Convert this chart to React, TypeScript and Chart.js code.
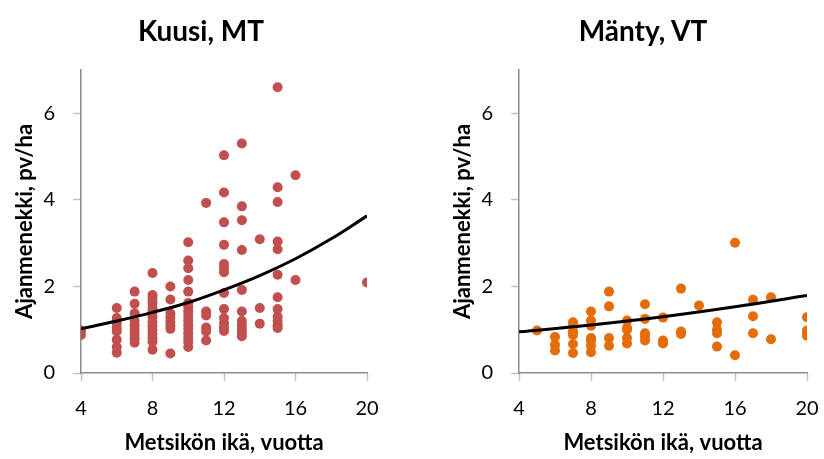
import React, { useEffect, useRef } from "react";
import { Chart, registerables } from "chart.js";

Chart.register(...registerables);

// ---- Data: Kuusi, MT (age in years, time per hectare) ----
const kuusiAge = [
  4, 4,
  6, 6, 6, 6, 6, 6, 6, 6,
  7, 7, 7, 7, 7, 7, 7, 7, 7,
  8, 8, 8, 8, 8, 8, 8, 8, 8, 8, 8, 8, 8, 8,
  9, 9, 9, 9, 9, 9, 9, 9,
  10, 10, 10, 10, 10, 10, 10, 10, 10, 10, 10, 10, 10, 10, 10, 10,
  11, 11, 11, 11, 11, 11,
  12, 12, 12, 12, 12, 12, 12, 12, 12, 12, 12, 12, 12,
  13, 13, 13, 13, 13, 13, 13, 13, 13, 13, 13,
  14, 14, 14,
  15, 15, 15, 15, 15, 15, 15, 15, 15, 15, 15, 15,
  16, 16,
  20,
];
const kuusiValue = [
  0.98, 0.88,
  1.5, 1.27, 1.15, 1.04, 0.96, 0.77, 0.6, 0.47,
  1.88, 1.6, 1.38, 1.2, 1.1, 1.0, 0.9, 0.8, 0.7,
  2.31, 1.8, 1.72, 1.62, 1.5, 1.42, 1.3, 1.18, 1.08, 1.0, 0.9, 0.8, 0.72, 0.54,
  2.0, 1.7, 1.38, 1.28, 1.18, 1.1, 1.02, 0.45,
  3.02, 2.6, 2.42, 2.15, 1.88, 1.62, 1.52, 1.42, 1.32, 1.22, 1.12, 1.02, 0.92, 0.82, 0.72, 0.6,
  3.93, 1.42, 1.33, 1.05, 0.96, 0.75,
  5.03, 4.17, 3.48, 2.96, 2.52, 2.42, 2.33, 1.85, 1.48, 1.27, 1.15, 1.05, 0.97,
  5.3, 3.85, 3.53, 2.84, 1.92, 1.42, 1.2, 1.1, 1.0, 0.92, 0.85,
  3.09, 1.5, 1.14,
  6.6, 4.29, 3.95, 3.04, 2.86, 2.27, 1.75, 1.48, 1.3, 1.2, 1.1, 1.04,
  4.57, 2.15,
  2.09,
];
const kuusiTrendAge = [4, 6, 8, 10, 12, 14, 16, 18, 20];
const kuusiTrendValue = [1.02, 1.2, 1.4, 1.63, 1.92, 2.25, 2.64, 3.1, 3.63];

// ---- Data: Mänty, VT ----
const mantyAge = [
  5,
  6, 6, 6,
  7, 7, 7, 7, 7, 7,
  8, 8, 8, 8, 8, 8, 8,
  9, 9, 9, 9,
  10, 10, 10, 10, 10,
  11, 11, 11, 11, 11,
  12, 12, 12,
  13, 13, 13,
  14,
  15, 15, 15, 15,
  16, 16,
  17, 17, 17,
  18, 18,
  20, 20, 20, 20,
];
const mantyValue = [
  0.98,
  0.83, 0.65, 0.52,
  1.17, 1.08, 0.96, 0.88, 0.67, 0.46,
  1.42, 1.21, 1.09, 0.81, 0.75, 0.63, 0.48,
  1.88, 1.54, 0.81, 0.63,
  1.21, 1.04, 1.0, 0.81, 0.68,
  1.59, 1.25, 0.92, 0.85, 0.75,
  1.28, 0.75, 0.68,
  1.95, 0.96, 0.9,
  1.56,
  1.17, 1.0, 0.92, 0.61,
  3.01, 0.41,
  1.69, 1.31, 0.92,
  1.75, 0.78,
  1.29, 0.98, 0.92, 0.86,
];
const mantyTrendAge = [4, 8, 12, 16, 20];
const mantyTrendValue = [0.95, 1.11, 1.3, 1.53, 1.79];

const xTicks = [4, 8, 12, 16, 20];
const yTicks = [0, 2, 4, 6];

const FONT = "Lato, 'Open Sans', sans-serif";
const AXIS_COLOR = "#8c8c8c";

type PanelProps = {
  ages: number[];
  values: number[];
  trendAges: number[];
  trendValues: number[];
  color: string;
  padLeft: number;
  yWidth: number;
  padRight: number;
};

function Panel(props: PanelProps) {
  const ref = useRef<HTMLCanvasElement | null>(null);
  useEffect(() => {
    if (!ref.current) return;
    const pts = props.ages.map((a, i) => ({ x: a, y: props.values[i] }));
    const trend = props.trendAges.map((a, i) => ({ x: a, y: props.trendValues[i] }));
    const chart = new Chart(ref.current, {
      type: "scatter",
      data: {
        datasets: [
          {
            type: "line",
            data: trend,
            borderColor: "#000000",
            borderWidth: 3,
            pointRadius: 0,
            tension: 0.4,
            fill: false,
            order: 0,
          } as any,
          {
            data: pts,
            backgroundColor: props.color,
            borderColor: props.color,
            pointRadius: 5,
            pointBorderWidth: 0,
            order: 1,
          },
        ],
      },
      options: {
        animation: false,
        responsive: false,
        devicePixelRatio: 1,
        layout: { padding: { left: props.padLeft, right: props.padRight, top: 70, bottom: 0 } },
        plugins: { legend: { display: false }, tooltip: { enabled: false }, title: { display: false } },
        scales: {
          x: {
            type: "linear",
            min: 4,
            max: 20,
            afterBuildTicks: (s: any) => {
              s.ticks = xTicks.map((v) => ({ value: v }));
            },
            afterFit: (s: any) => {
              s.height = 86;
              s.paddingLeft = 0;
              s.paddingRight = 0;
            },
            grid: { drawOnChartArea: false, drawTicks: true, tickLength: 8, color: "#c0c0c0", tickWidth: 1.5 },
            border: { color: AXIS_COLOR, width: 1.5 },
            ticks: { color: "#000", font: { family: FONT, size: 20 }, padding: 16, maxRotation: 0 },
            title: {
              display: true,
              text: "Metsikön ikä, vuotta",
              color: "#000",
              font: { family: FONT, size: 22, weight: "bold" },
              padding: { top: 0, bottom: 3 },
            },
          },
          y: {
            type: "linear",
            min: 0,
            max: 7,
            afterBuildTicks: (s: any) => {
              s.ticks = yTicks.map((v) => ({ value: v }));
            },
            afterFit: (s: any) => {
              s.width = props.yWidth;
            },
            grid: { drawOnChartArea: false, drawTicks: true, tickLength: 8, color: "#c0c0c0", tickWidth: 1.5 },
            border: { color: AXIS_COLOR, width: 1.5 },
            ticks: { color: "#000", font: { family: FONT, size: 20 }, padding: 18 },
            title: {
              display: true,
              text: "Ajanmenekki, pv/ha",
              color: "#000",
              font: { family: FONT, size: 22, weight: "bold" },
              padding: { top: 0, bottom: 0 },
            },
          },
        },
      },
    });
    return () => chart.destroy();
  }, []);
  return <canvas ref={ref} width={412} height={459} style={{ display: "block", width: 412, height: 459 }} />;
}

const titleStyle: React.CSSProperties = {
  position: "absolute",
  top: 13,
  fontFamily: FONT,
  fontWeight: 700,
  fontSize: 28,
  color: "#000",
  transform: "translateX(-50%)",
  whiteSpace: "nowrap",
  lineHeight: "34px",
};

export default function App() {
  return (
    <div style={{ position: "absolute", left: 0, top: 0, width: 824, height: 459, background: "#fff", overflow: "hidden" }}>
      <div style={{ position: "absolute", left: 0, top: 0 }}>
        <Panel
          ages={kuusiAge}
          values={kuusiValue}
          trendAges={kuusiTrendAge}
          trendValues={kuusiTrendValue}
          color="#C0504D"
          padLeft={12}
          yWidth={69}
          padRight={45}
        />
      </div>
      <div style={{ position: "absolute", left: 412, top: 0 }}>
        <Panel
          ages={mantyAge}
          values={mantyValue}
          trendAges={mantyTrendAge}
          trendValues={mantyTrendValue}
          color="#E46C0A"
          padLeft={38}
          yWidth={69}
          padRight={17}
        />
      </div>
      <div style={{ ...titleStyle, left: 201 }}>Kuusi, MT</div>
      <div style={{ ...titleStyle, left: 643 }}>Mänty, VT</div>
    </div>
  );
}
